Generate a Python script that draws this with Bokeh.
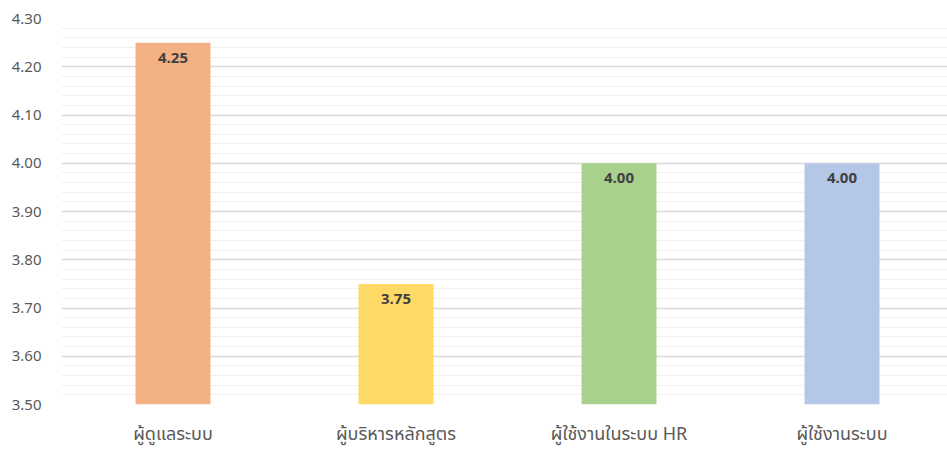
from bokeh.plotting import figure
from bokeh.models import ColumnDataSource, Range1d, FixedTicker, SingleIntervalTicker, NumeralTickFormatter
from bokeh.embed import file_html
from bokeh.resources import INLINE
from bokeh.core.properties import value

categories = ["ผู้ดูแลระบบ", "ผู้บริหารหลักสูตร", "ผู้ใช้งานในระบบ HR", "ผู้ใช้งานระบบ"]
scores = [4.25, 3.75, 4.00, 4.00]
labels = ["4.25", "3.75", "4.00", "4.00"]

bar_colors = ["#F4B183", "#FFD966", "#A9D18E", "#B4C7E7"]

pos = list(range(len(categories)))
src = ColumnDataSource(dict(x=pos, top=scores, label=labels, color=bar_colors))

FONT = "Tahoma, 'Noto Sans Thai', 'Noto Sans', sans-serif"

p = figure(width=947, height=450, output_backend="svg", toolbar_location=None,
           x_range=Range1d(-0.5, 3.473), y_range=Range1d(3.5, 4.3),
           min_border_left=61, min_border_right=0, min_border_top=18, min_border_bottom=46)
p.outline_line_color = None
p.background_fill_color = "white"
p.border_fill_color = "white"

p.vbar(x="x", top="top", bottom=3.5, width=0.336, fill_color="color", line_color=None, source=src)
p.text(x="x", y="top", text="label", source=src, text_align="center", text_baseline="top",
       y_offset=10, text_font=value(FONT), text_font_style="bold", text_font_size="15px",
       text_color="#404040")

p.yaxis.ticker = SingleIntervalTicker(interval=0.1, num_minor_ticks=5)
p.yaxis.formatter = NumeralTickFormatter(format="0.00")
p.yaxis.axis_line_color = None
p.yaxis.major_tick_line_color = None
p.yaxis.minor_tick_line_color = None
p.yaxis.major_label_text_font = FONT
p.yaxis.major_label_text_font_size = "15px"
p.yaxis.major_label_text_color = "#595959"
p.yaxis.major_label_standoff = 14

p.xaxis.ticker = FixedTicker(ticks=pos)
p.xaxis.major_label_overrides = {i: c for i, c in enumerate(categories)}
p.xaxis.axis_line_color = None
p.xaxis.major_tick_line_color = None
p.xaxis.minor_tick_line_color = None
p.xaxis.major_label_text_font = FONT
p.xaxis.major_label_text_font_size = "18px"
p.xaxis.major_label_text_color = "#595959"
p.xaxis.major_label_standoff = 10

p.xgrid.grid_line_color = None
p.ygrid.grid_line_color = "#D9D9D9"
p.ygrid.grid_line_width = 1.5
p.ygrid.minor_grid_line_color = "#F0F0F0"
p.ygrid.minor_grid_line_width = 1

open("out.html", "w").write(file_html(p, INLINE))
